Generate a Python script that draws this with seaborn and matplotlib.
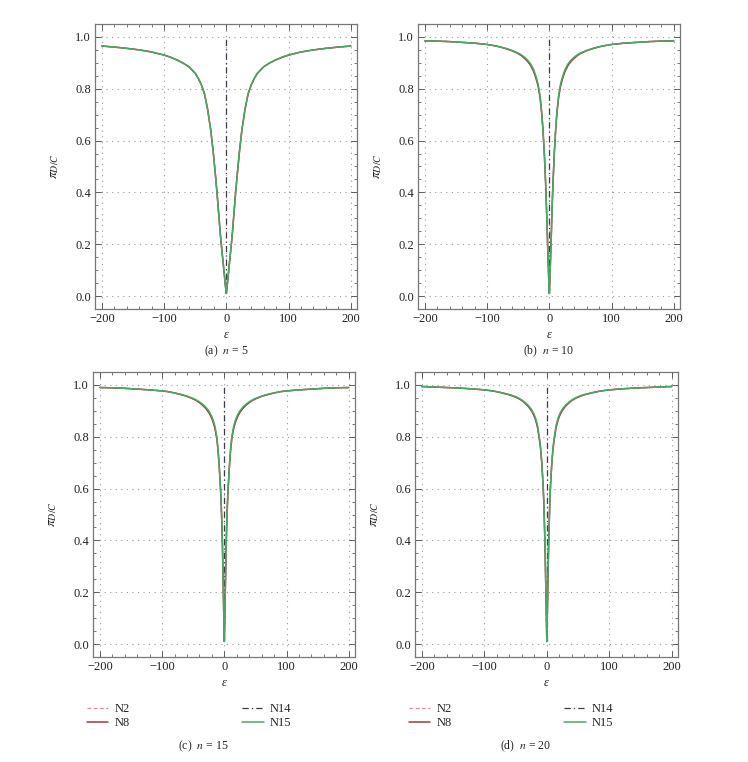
import matplotlib
matplotlib.use("Agg")
import matplotlib.pyplot as plt
from matplotlib.ticker import MultipleLocator
import seaborn as sns

# half-grid of epsilon values (curves are symmetric about 0)
eps_half = [0, 1, 2, 3, 4, 5, 6, 8, 10, 12, 15, 18, 21, 25, 30, 35, 40, 45, 50,
            60, 70, 80, 90, 100, 120, 140, 160, 180, 200]

# N15 (green)
n15_n5 = [0.01, 0.03, 0.054, 0.078, 0.102, 0.126, 0.15, 0.198, 0.25, 0.31, 0.40, 0.48, 0.555, 0.64, 0.72,
          0.78, 0.815, 0.84, 0.86, 0.885, 0.90, 0.912, 0.922, 0.93, 0.942, 0.95, 0.956, 0.961, 0.965]
n15_n10 = [0.01, 0.07, 0.145, 0.22, 0.30, 0.375, 0.44, 0.55, 0.635, 0.705, 0.775, 0.818, 0.845, 0.873, 0.896,
           0.911, 0.922, 0.931, 0.938, 0.948, 0.956, 0.962, 0.967, 0.971, 0.976, 0.979, 0.982, 0.984, 0.985]
n15_n15 = [0.01, 0.13, 0.26, 0.38, 0.47, 0.54, 0.595, 0.68, 0.75, 0.80, 0.84, 0.865, 0.883, 0.90, 0.915,
           0.926, 0.935, 0.942, 0.948, 0.957, 0.964, 0.969, 0.974, 0.977, 0.981, 0.984, 0.987, 0.989, 0.990]
n15_n20 = [0.01, 0.14, 0.27, 0.39, 0.48, 0.56, 0.615, 0.70, 0.76, 0.80, 0.845, 0.872, 0.89, 0.907, 0.922,
           0.933, 0.942, 0.949, 0.955, 0.963, 0.969, 0.974, 0.978, 0.981, 0.985, 0.988, 0.990, 0.992, 0.994]

# N2 / N8 (red) sit just under the green curve around the knee
n8_n5 = n15_n5
n8_n10 = [0.01, 0.07, 0.145, 0.22, 0.30, 0.375, 0.44, 0.55, 0.632, 0.70, 0.768, 0.81, 0.837, 0.866, 0.89,
          0.906, 0.918, 0.928, 0.936, 0.947, 0.955, 0.962, 0.967, 0.971, 0.976, 0.979, 0.982, 0.984, 0.985]
n8_n15 = [0.01, 0.13, 0.26, 0.38, 0.47, 0.54, 0.595, 0.678, 0.745, 0.792, 0.832, 0.857, 0.876, 0.894, 0.91,
          0.922, 0.932, 0.94, 0.946, 0.956, 0.963, 0.969, 0.974, 0.977, 0.981, 0.984, 0.987, 0.989, 0.990]
n8_n20 = [0.01, 0.14, 0.27, 0.39, 0.48, 0.56, 0.615, 0.698, 0.755, 0.793, 0.838, 0.865, 0.884, 0.902, 0.918,
          0.93, 0.94, 0.947, 0.953, 0.962, 0.968, 0.974, 0.978, 0.981, 0.985, 0.988, 0.990, 0.992, 0.994]

# N14 is the vertical jump at epsilon = 0
n14_eps = [0.0, 0.0]
n14_val = [0.01, 1.0]

panels = [
    ("(a)", 5, n15_n5, n8_n5),
    ("(b)", 10, n15_n10, n8_n10),
    ("(c)", 15, n15_n15, n8_n15),
    ("(d)", 20, n15_n20, n8_n20),
]

# axes boxes in pixels: left, right, top, bottom
boxes = [(95, 357, 24, 309), (418, 680, 24, 309), (93, 355, 372, 657), (415, 678, 372, 657)]

W, H = 748, 762
C_N2, C_N8, C_N14, C_N15 = "#e58a98", "#a23a3a", "#3c3c4c", "#4aa865"

sns.set_theme(style="ticks")
plt.rcParams["font.family"] = ["Liberation Serif", "DejaVu Serif"]
plt.rcParams["mathtext.fontset"] = "stix"

fig = plt.figure(figsize=(W / 100, H / 100), dpi=100)


def full(vals):
    v = list(vals)
    return v[:0:-1] + v


eps_full = [-e for e in eps_half[:0:-1]] + eps_half

for i, (tag, n, green, red) in enumerate(panels):
    l, r, t, b = boxes[i]
    ax = fig.add_axes([l / W, 1 - b / H, (r - l) / W, (b - t) / H])
    sns.lineplot(x=eps_full, y=full(red), ax=ax, color=C_N2, linewidth=0.9,
                 linestyle=(0, (3, 2)), estimator=None, sort=False, label="N2")
    sns.lineplot(x=eps_full, y=full(red), ax=ax, color=C_N8, linewidth=1.1,
                 estimator=None, sort=False, label="N8")
    sns.lineplot(x=n14_eps, y=n14_val, ax=ax, color=C_N14, linewidth=0.9,
                 linestyle=(0, (5, 2.5, 1, 2.5)), estimator=None, sort=False, label="N14")
    sns.lineplot(x=eps_full, y=full(green), ax=ax, color=C_N15, linewidth=1.1,
                 estimator=None, sort=False, label="N15")
    handles, labels = ax.get_legend_handles_labels()
    ax.get_legend().remove()

    ax.set_xlim(-211, 210)
    ax.xaxis.set_major_locator(MultipleLocator(100))
    ax.xaxis.set_minor_locator(MultipleLocator(20))
    ax.yaxis.set_major_locator(MultipleLocator(0.2))
    ax.yaxis.set_minor_locator(MultipleLocator(0.05))
    ax.set_xticks([-200, -100, 0, 100, 200])
    ax.set_xticklabels(["\u2212200", "\u2212100", "0", "100", "200"])
    ax.set_yticks([0.0, 0.2, 0.4, 0.6, 0.8, 1.0])
    ax.set_yticklabels(["0.0", "0.2", "0.4", "0.6", "0.8", "1.0"])
    ax.set_ylim(-0.05, 1.05)
    ax.grid(True, which="major", linestyle=(0, (1, 4)), color="#9a9a9a", linewidth=0.8)
    ax.tick_params(which="both", direction="in", top=True, right=True,
                   labelsize=9, colors="#444444", labelcolor="#222222", pad=3)
    ax.tick_params(which="major", length=4, width=0.6)
    ax.tick_params(which="minor", length=2, width=0.5)
    for s in ax.spines.values():
        s.set_color("#777777")
        s.set_linewidth(0.9)

    ax.set_xlabel("\u03b5", fontstyle="italic", fontsize=9, labelpad=3)
    ax.set_ylabel(r"$\pi_{D/C}$", fontsize=10, labelpad=10)

    cx = (l + r) / 2
    if i < 2:
        fig.text(cx / W, 1 - 351 / H, f"{tag}  $n$ = {n}", ha="center", va="center", fontsize=8.5)
    else:
        ax.legend(handles, labels, ncol=2, loc="upper left", frameon=False,
                  bbox_to_anchor=((l - 6) / W, 1 - 703 / H), bbox_transform=fig.transFigure,
                  fontsize=9, handlelength=1.7, handletextpad=0.5, labelspacing=0.15,
                  columnspacing=9.0, borderaxespad=0, borderpad=0)
        fig.text((cx - 21) / W, 1 - 746 / H, f"{tag}  $n$ = {n}", ha="center", va="center", fontsize=8.5)

fig.savefig("out.png", dpi=100)
